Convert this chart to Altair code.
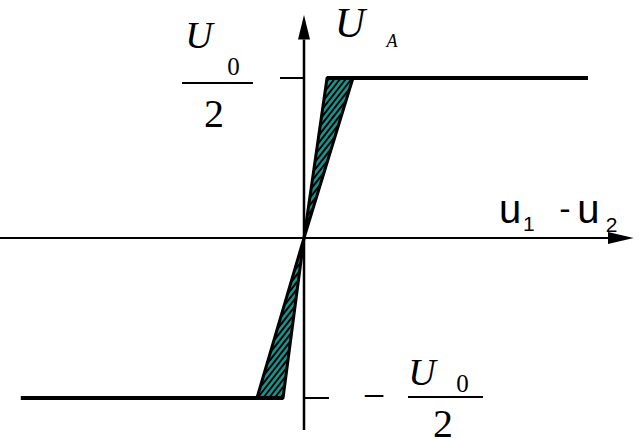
import numpy as np
import pandas as pd
import altair as alt

# Transfer characteristic U_A(u1 - u2); vertical unit = U0/2
sat_level = 1.0
plateau_x = [-1.77, 1.775]        # outer ends of the saturated branches
upper_band_x = [0.144, 0.306]     # band edges where output reaches +U0/2
lower_band_x = [-0.294, -0.131]   # band edges where output reaches -U0/2

# Coordinate axes (line extent up to the arrowhead base, arrow tips)
h_axis_x = [-1.9, 1.9]
v_axis_y = [-1.2, 1.24]
arrow_tip_x = 2.06
arrow_tip_y = 1.394
arrow_half_w = 0.0375

TEAL = "#17958f"
INK = "black"
SERIF = "Liberation Serif"
SANS = "Liberation Sans"

X = alt.Scale(domain=[-1.9, 2.09375], nice=False, zero=False)
Y = alt.Scale(domain=[-1.25625, 1.4875], nice=False, zero=False)


def xs(field):
    return alt.X(field, type="quantitative", scale=X, axis=None)


def ys(field):
    return alt.Y(field, type="quantitative", scale=Y, axis=None)


# Labels: text, position, font, size, style, baseline
labels = [
    ("U", 0.2875, 1.256, SERIF, 42, "italic", "alphabetic"),
    ("A", 0.55, 1.194, SERIF, 18, "italic", "alphabetic"),
    ("U", -0.656, 1.1875, SERIF, 38, "italic", "alphabetic"),
    ("0", -0.44, 1.019, SERIF, 25, "normal", "alphabetic"),
    ("2", -0.5625, 0.694, SERIF, 40, "normal", "alphabetic"),
    ("\u2212", 0.4375, -0.994, SERIF, 40, "normal", "middle"),
    ("U", 0.7375, -0.919, SERIF, 38, "italic", "alphabetic"),
    ("0", 0.99, -0.9625, SERIF, 25, "normal", "alphabetic"),
    ("2", 0.869, -1.244, SERIF, 40, "normal", "alphabetic"),
    ("u", 1.2875, 0.09375, SANS, 40, "normal", "alphabetic"),
    ("1", 1.406, 0.04375, SANS, 21, "normal", "alphabetic"),
    ("-", 1.631, 0.115, SANS, 34, "normal", "alphabetic"),
    ("u", 1.778, 0.09375, SANS, 40, "normal", "alphabetic"),
    ("2", 1.922, 0.0375, SANS, 21, "normal", "alphabetic"),
]

text_layers = []
for t, x, y, font, size, style, base in labels:
    text_layers.append(
        alt.Chart(pd.DataFrame({"t": [t], "x": [x], "y": [y]})).mark_text(
            align="center", baseline=base, font=font, fontSize=size,
            fontStyle=style, color=INK,
        ).encode(x=xs("x"), y=ys("y"), text="t:N")
    )

# The two shaded bands of the characteristic
bands = pd.DataFrame({
    "band": ["up", "up", "down", "down"],
    "y": [0.0, sat_level, -sat_level, 0.0],
    "x": [0.0, upper_band_x[0], lower_band_x[0], 0.0],
    "x2": [0.0, upper_band_x[1], lower_band_x[1], 0.0],
})


def hatch(poly, angle_deg, spacing):
    """Clip a family of parallel lines to a convex polygon."""
    poly = np.asarray(poly, dtype=float)
    d = np.array([np.cos(np.radians(angle_deg)), np.sin(np.radians(angle_deg))])
    n = np.array([-d[1], d[0]])
    proj = poly @ n
    segs = []
    for c in np.arange(proj.min() + spacing / 2, proj.max(), spacing):
        pts = []
        for i in range(len(poly)):
            a, b = poly[i], poly[(i + 1) % len(poly)]
            fa, fb = a @ n - c, b @ n - c
            if fa * fb < 0:
                t = fa / (fa - fb)
                pts.append(a + t * (b - a))
        if len(pts) >= 2:
            pts = sorted(pts, key=lambda p: p @ d)
            segs.append((pts[0][0], pts[0][1], pts[-1][0], pts[-1][1]))
    return segs


upper_tri = [(0, 0), (upper_band_x[0], sat_level), (upper_band_x[1], sat_level)]
lower_tri = [(0, 0), (lower_band_x[1], -sat_level), (lower_band_x[0], -sat_level)]
hatch_segs = hatch(upper_tri, 52, 0.028) + hatch(lower_tri, 52, 0.028)
hatch_df = pd.DataFrame(hatch_segs, columns=["x", "y", "x2", "y2"])

band_fill = alt.Chart(bands).mark_area(orient="horizontal", color=TEAL).encode(
    y=ys("y"), x=xs("x"), x2="x2", detail="band:N")
band_hatch = alt.Chart(hatch_df).mark_rule(color=INK, strokeWidth=2, strokeCap="butt").encode(
    x=xs("x"), y=ys("y"), x2="x2", y2="y2")
band_edge = alt.Chart(bands).mark_area(
    orient="horizontal", fillOpacity=0, stroke=INK, strokeWidth=3, strokeJoin="round"
).encode(y=ys("y"), x=xs("x"), x2="x2", detail="band:N")

plateaus = pd.DataFrame({
    "x": [upper_band_x[0], plateau_x[0]],
    "x2": [plateau_x[1], lower_band_x[1]],
    "y": [sat_level, -sat_level],
})
plateau_lines = alt.Chart(plateaus).mark_rule(color=INK, strokeWidth=4).encode(
    x=xs("x"), x2="x2", y=ys("y"))

# Axes, ticks at +/- U0/2 and fraction bars of the labels
hrules = pd.DataFrame({
    "x": [h_axis_x[0], -0.15, 0.0, -0.7625, 0.65],
    "x2": [h_axis_x[1], 0.0, 0.156, -0.319, 1.119],
    "y": [0.0, sat_level, -sat_level, 0.969, -0.994],
})
h_lines = alt.Chart(hrules).mark_rule(color=INK, strokeWidth=2).encode(
    x=xs("x"), x2="x2", y=ys("y"))
v_axis = alt.Chart(pd.DataFrame({"x": [0.0], "y": [v_axis_y[0]], "y2": [v_axis_y[1]]})).mark_rule(
    color=INK, strokeWidth=2.5).encode(x=xs("x"), y=ys("y"), y2="y2")

# Arrowheads as filled triangles at the ends of the axes
arrow_up_df = pd.DataFrame({
    "y": [v_axis_y[1], arrow_tip_y],
    "x": [-arrow_half_w, 0.0],
    "x2": [arrow_half_w, 0.0],
})
arrow_up = alt.Chart(arrow_up_df).mark_area(orient="horizontal", color=INK).encode(
    y=ys("y"), x=xs("x"), x2="x2")
arrow_right_df = pd.DataFrame({
    "x": [h_axis_x[1], arrow_tip_x],
    "y": [-arrow_half_w, 0.0],
    "y2": [arrow_half_w, 0.0],
})
arrow_right = alt.Chart(arrow_right_df).mark_area(orient="vertical", color=INK).encode(
    x=xs("x"), y=ys("y"), y2="y2")

chart = alt.layer(
    band_fill, band_hatch, band_edge, plateau_lines, h_lines, v_axis, arrow_up, arrow_right,
    *text_layers,
).properties(
    width=639, height=439, padding=0, autosize=alt.AutoSizeParams(type="none"),
    background="white",
).configure_view(stroke=None)

chart.save("out.html", embed_options={"renderer": "svg", "actions": False})
